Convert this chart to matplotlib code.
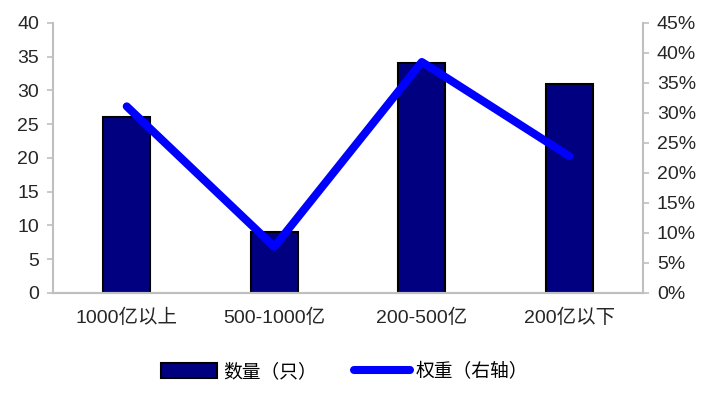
import matplotlib
matplotlib.use("Agg")
import matplotlib.pyplot as plt
from matplotlib.ticker import FuncFormatter, MultipleLocator

plt.rcParams['font.family'] = ['Liberation Sans', 'Noto Sans CJK SC', 'DejaVu Sans']

categories = ['1000亿以上', '500-1000亿', '200-500亿', '200亿以下']
counts = [26, 9, 34, 31]
weights = [31.1, 7.7, 38.5, 22.8]
bar_label = '数量（只）'
line_label = '权重（右轴）'

fig = plt.figure(figsize=(7.11, 3.93), dpi=100)
ax = fig.add_axes([0.0745, 0.2545, 0.830, 0.687])
ax2 = ax.twinx()

x = list(range(len(categories)))
bars = ax.bar(x, counts, width=0.32, color='#000080', edgecolor='black', linewidth=1.5, label=bar_label, zorder=2)
line, = ax2.plot(x, weights, color='#0000FF', linewidth=5.8, solid_capstyle='round', label=line_label, zorder=3)

ax.set_xlim(-0.5, 3.5)
ax.set_ylim(0, 40)
ax2.set_ylim(0, 45)
ax.yaxis.set_major_locator(MultipleLocator(5))
ax2.yaxis.set_major_locator(MultipleLocator(5))
ax2.yaxis.set_major_formatter(FuncFormatter(lambda v, p: f'{v:.0f}%'))

ax.set_xticks(x)
ax.set_xticklabels(categories)

spine_c = '#bfbfbf'
for a in (ax, ax2):
    a.spines['top'].set_visible(False)
    for s in ('left', 'right', 'bottom'):
        a.spines[s].set_color(spine_c)
        a.spines[s].set_linewidth(1.5)
    a.tick_params(axis='y', colors=spine_c, labelcolor='#262626', labelsize=14, length=4, width=1.2, pad=6)
ax.spines['right'].set_visible(False)
ax2.spines['left'].set_visible(False)
ax.tick_params(axis='x', length=0, labelsize=14, labelcolor='#262626', pad=11)

ax.set_zorder(1)
ax2.set_zorder(2)
ax2.patch.set_visible(False)

fig.legend([bars, line], [bar_label, line_label], loc='center',
           bbox_to_anchor=(0.485, 0.053), ncol=2, frameon=False,
           fontsize=13.5, handlelength=3.0, handleheight=0.8,
           handletextpad=0.3, columnspacing=2.0)

fig.savefig('out.png', dpi=100)
